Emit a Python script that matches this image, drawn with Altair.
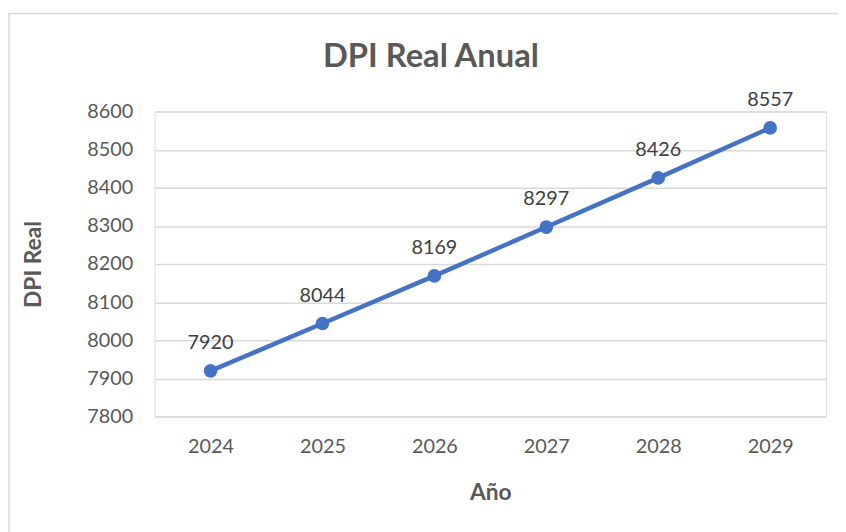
import altair as alt
import pandas as pd

years = ["2024", "2025", "2026", "2027", "2028", "2029"]
dpi_real = [7920, 8044, 8169, 8297, 8426, 8557]
chart_title = "DPI Real Anual"

df = pd.DataFrame({"Año": years, "DPI Real": dpi_real})

FONT = "Lato"
GRAY = "#595959"
BLUE = "#4472C4"

W, H = 678, 308
PAD_L, PAD_T = 148, 102
TOTAL_W, TOTAL_H = 838, 524

base = alt.Chart(df).encode(
    x=alt.X(
        "Año:O",
        sort=years,
        scale=alt.Scale(type="point", padding=0.5),
        axis=alt.Axis(
            title="Año",
            labelAngle=0,
            ticks=False,
            domain=False,
            grid=False,
            labelPadding=20,
            labelFontSize=20,
            labelColor=GRAY,
            labelFont=FONT,
            titleFont=FONT,
            titleFontSize=23,
            titleFontWeight="bold",
            titleColor=GRAY,
            titleX=W / 2,
            titleY=77,
            titleBaseline="middle",
        ),
    ),
    y=alt.Y(
        "DPI Real:Q",
        scale=alt.Scale(domain=[7800, 8600], nice=False, zero=False),
        axis=alt.Axis(
            title="DPI Real",
            values=[7800, 7900, 8000, 8100, 8200, 8300, 8400, 8500, 8600],
            format="d",
            ticks=False,
            domain=False,
            grid=True,
            gridColor="#D9D9D9",
            gridWidth=1.5,
            labelPadding=22,
            labelFontSize=20,
            labelColor=GRAY,
            labelFont=FONT,
            titleFont=FONT,
            titleFontSize=23,
            titleFontWeight="bold",
            titleColor=GRAY,
            titleAngle=270,
            titleX=-122,
            titleY=H / 2,
            titleAlign="center",
            titleBaseline="middle",
        ),
    ),
)

line = base.mark_line(color=BLUE, strokeWidth=4.5)
points = base.mark_circle(color=BLUE, size=190, opacity=1)
labels = base.mark_text(
    dy=-22, baseline="alphabetic", fontSize=20, font=FONT, color="#404040"
).encode(text="DPI Real:Q")

border = alt.Chart(pd.DataFrame({"b": [0]})).mark_rect(
    fill=None, stroke="#D9D9D9", strokeWidth=1.5, clip=False
).encode(
    x=alt.value(-PAD_L + 1),
    x2=alt.value(TOTAL_W - PAD_L + 10),
    y=alt.value(11 - 8 - PAD_T),
    y2=alt.value(TOTAL_H - PAD_T + 10),
)

title = alt.Chart(pd.DataFrame({"t": [chart_title]})).mark_text(
    font=FONT, fontSize=33, fontWeight="bold", color=GRAY,
    align="center", baseline="middle",
).encode(
    text="t:N",
    x=alt.value(435 - 8 - PAD_L),
    y=alt.value(55 - 8 - PAD_T),
)

chart = alt.layer(border, line, points, labels, title).properties(
    width=W,
    height=H,
    autosize=alt.AutoSizeParams(type="none"),
    padding={"left": PAD_L, "top": PAD_T, "right": TOTAL_W - PAD_L - W, "bottom": TOTAL_H - PAD_T - H},
).configure_view(stroke=None).configure(background="white")

chart.save("out.html", embed_options={"renderer": "svg", "actions": False})
